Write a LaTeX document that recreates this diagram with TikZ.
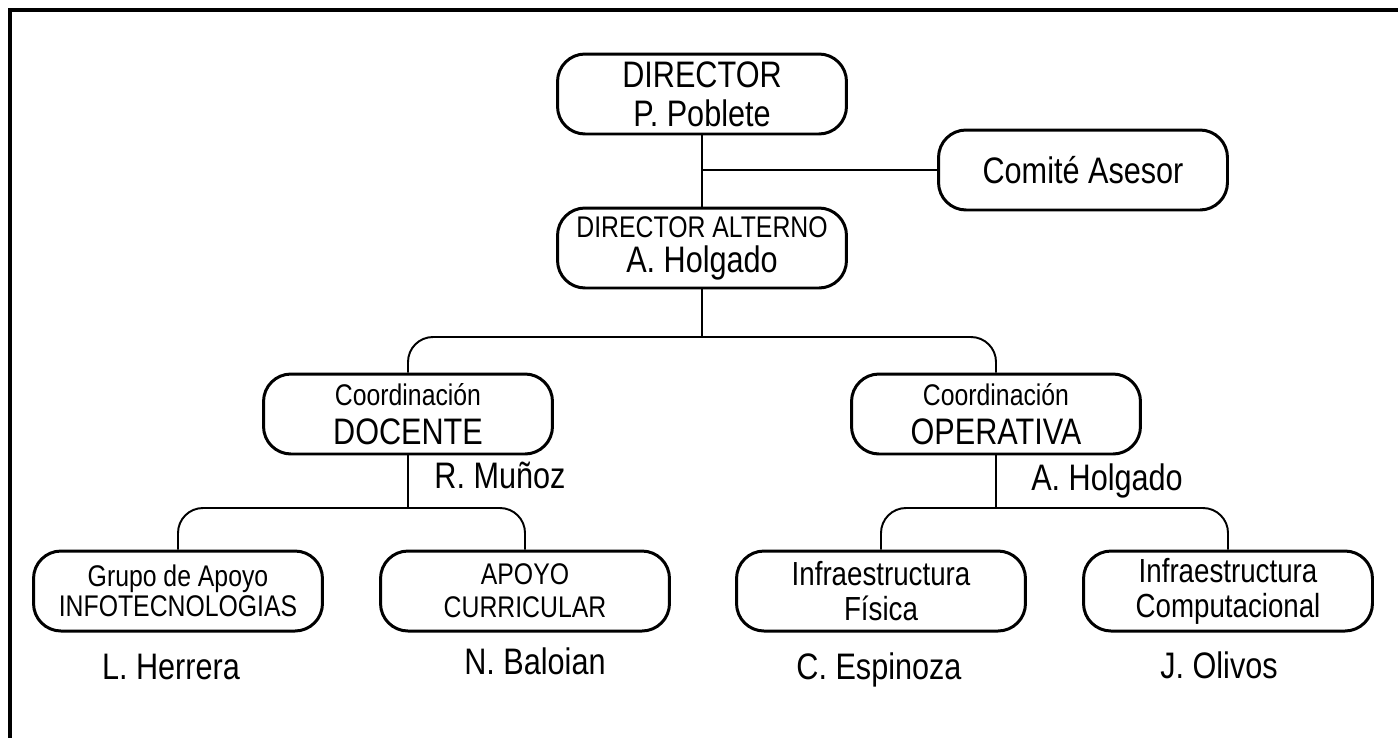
\documentclass[tikz,border=0pt]{standalone}
\usepackage{fontspec}
\setmainfont[FakeStretch=0.83]{Liberation Sans}
\usepackage{tikz}
\newcommand{\grande}{\fontsize{21}{18}\selectfont}
\newcommand{\chico}{\fontsize{17}{17}\selectfont}
\newcommand{\medio}{\fontsize{19}{20}\selectfont}
\tikzstyle{cargo} = [rectangle, rounded corners=0.55cm, minimum width=5.78cm, minimum height=1.6cm, text centered, align=center, draw=black, line width=1.7pt, fill=white, font=\grande]
\tikzstyle{nombre} = [font=\grande, anchor=base]
\tikzstyle{linea} = [line width=1.1pt, rounded corners=0.5cm]

\begin{document}
\begin{tikzpicture}[x=0.02cm, y=-0.02cm]
		\useasboundingbox (0,0) rectangle (1398,738);
		\draw [line width=2.3pt] (1398,10) -- (10,10) -- (10,738);

		\node (director) [cargo] at (702,94) {DIRECTOR\\[4pt]P. Poblete};
		\node (comite) [cargo] at (1083,170) {Comité Asesor};
		\node (alterno) [cargo] at (702,248) {{\chico DIRECTOR ALTERNO}\\[2pt]A. Holgado};
		\node (docente) [cargo] at (408,414) {{\chico Coordinación}\\[4pt]DOCENTE};
		\node (operativa) [cargo] at (996,414) {{\chico Coordinación}\\[4pt]OPERATIVA};
		\node (grupo) [cargo, font=\chico] at (178,591) {Grupo de Apoyo\\INFOTECNOLOGIAS};
		\node (apoyo) [cargo, font=\chico] at (525,591) {APOYO\\[2pt]CURRICULAR};
		\node (fisica) [cargo, font=\medio] at (881,591) {Infraestructura\\Física};
		\node (computo) [cargo, font=\medio] at (1228,591) {Infraestructura\\Computacional};

		\node (munoz) [nombre] at (500,488) {R. Muñoz};
		\node (holgado) [nombre] at (1107,490) {A. Holgado};
		\node (herrera) [nombre] at (171,679) {L. Herrera};
		\node (baloian) [nombre] at (535,674) {N. Baloian};
		\node (espinoza) [nombre] at (879,679) {C. Espinoza};
		\node (olivos) [nombre] at (1219,678) {J. Olivos};

		\coordinate (rama1) at (702,337);
		\coordinate (rama2) at (408,508);
		\coordinate (rama3) at (996,508);

		\draw [linea] (director.south) -- (alterno.north);
		\draw [linea] (comite.west) -- (comite.west -| director.south);
		\draw [linea] (alterno.south) -- (rama1);
		\draw [linea] (docente.north) |- (rama1) -| (operativa.north);
		\draw [linea] (docente.south) -- (rama2);
		\draw [linea] (grupo.north) |- (rama2) -| (apoyo.north);
		\draw [linea] (operativa.south) -- (rama3);
		\draw [linea] (fisica.north) |- (rama3) -| (computo.north);
	\end{tikzpicture}
\end{document}
